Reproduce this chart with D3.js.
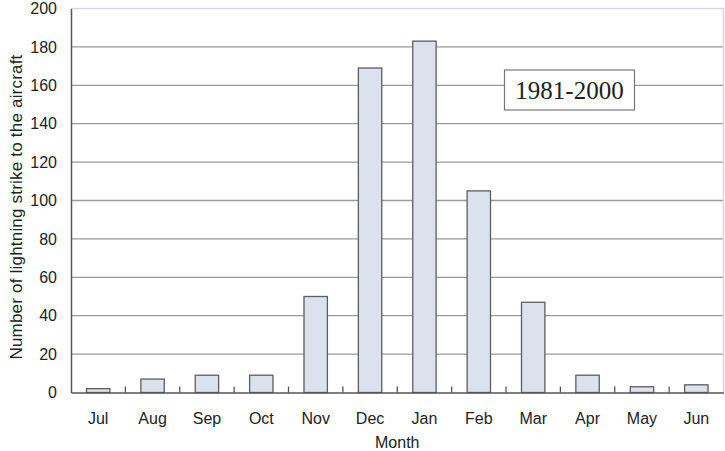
<!DOCTYPE html>
<html>
<head>
<meta charset="utf-8">
<script src="https://cdn.jsdelivr.net/npm/d3@7"></script>
<style>
  body { margin: 0; background: #fff; }
  text { font-family: "Liberation Sans", Arial, sans-serif; }
</style>
</head>
<body>
<div id="chart"></div>
<script>
var months = ["Jul", "Aug", "Sep", "Oct", "Nov", "Dec", "Jan", "Feb", "Mar", "Apr", "May", "Jun"];
var strikes = [2, 7, 9, 9, 50, 169, 183, 105, 47, 9, 3, 4];
var yTicks = [0, 20, 40, 60, 80, 100, 120, 140, 160, 180, 200];
var periodLabel = "1981-2000";

var width = 725;
var height = 451;
var margin = {left: 71, top: 8.5, right: 1.5, bottom: 58.5};
var innerW = width - margin.left - margin.right;
var innerH = height - margin.top - margin.bottom;

var svg = d3.select("#chart")
            .append("svg")
            .attr("width", width)
            .attr("height", height);

var g = svg.append("g")
           .attr("transform", "translate(" + margin.left + "," + margin.top + ")");

var x = d3.scaleBand()
          .domain(months)
          .range([0, innerW]);

var y = d3.scaleLinear()
          .domain([0, 200])
          .range([innerH, 0]);

// grid lines
g.selectAll("line.grid")
  .data(yTicks.slice(1, -1))
  .enter()
    .append("line")
    .attr("class", "grid")
    .attr("x1", 0)
    .attr("x2", innerW)
    .attr("y1", function(d) { return y(d); })
    .attr("y2", function(d) { return y(d); })
    .attr("stroke", "#9a9a9a")
    .attr("stroke-width", 1.3);

// light frame top / right
g.append("path")
  .attr("d", "M0," + y(200) + "H" + innerW + "V" + y(0))
  .attr("fill", "none")
  .attr("stroke", "#d6d6e4")
  .attr("stroke-width", 1.5);

// bars
var barW = x.bandwidth() * 0.43;
g.selectAll("rect.bar")
  .data(strikes)
  .enter()
    .append("rect")
    .attr("class", "bar")
    .attr("x", function(d, i) { return x(months[i]) + (x.bandwidth() - barW) / 2; })
    .attr("y", function(d) { return y(d); })
    .attr("width", barW)
    .attr("height", function(d) { return y(0) - y(d); })
    .attr("fill", "#dbe2ee")
    .attr("stroke", "#5e5e5e")
    .attr("stroke-width", 1.3);

// y axis
var yAxis = d3.axisLeft(y)
              .tickValues(yTicks)
              .tickSize(0)
              .tickPadding(14);

var yg = g.append("g").call(yAxis);
yg.select(".domain").attr("stroke", "#555").attr("stroke-width", 1.5);
yg.selectAll("text")
  .attr("font-size", "16px")
  .attr("fill", "#222");

// x axis
var xAxis = d3.axisBottom(x)
              .tickSize(0)
              .tickPadding(20);

var xg = g.append("g")
          .attr("transform", "translate(0," + innerH + ")")
          .call(xAxis);
xg.select(".domain").attr("stroke", "#555").attr("stroke-width", 1.5);
xg.selectAll("text")
  .attr("font-size", "16px")
  .attr("fill", "#222");

// inner tick marks between categories
g.selectAll("line.sep")
  .data(months.slice(1))
  .enter()
    .append("line")
    .attr("class", "sep")
    .attr("x1", function(d) { return x(d); })
    .attr("x2", function(d) { return x(d); })
    .attr("y1", innerH)
    .attr("y2", innerH - 6)
    .attr("stroke", "#555")
    .attr("stroke-width", 1.3);

// axis titles
svg.append("text")
   .attr("x", margin.left + innerW / 2)
   .attr("y", 448)
   .attr("text-anchor", "middle")
   .attr("font-size", "16px")
   .attr("fill", "#222")
   .text("Month");

svg.append("text")
   .attr("transform", "translate(22," + 207 + ") rotate(-90)")
   .attr("text-anchor", "middle")
   .attr("font-size", "17px")
   .attr("letter-spacing", "0.2px")
   .attr("fill", "#222")
   .text("Number of lightning strike to the aircraft");

// period label box
var box = svg.append("g").attr("transform", "translate(504.5,70)");
box.append("rect")
   .attr("width", 130)
   .attr("height", 40)
   .attr("fill", "#fff")
   .attr("stroke", "#777")
   .attr("stroke-width", 1.2);
box.append("text")
   .attr("x", 65)
   .attr("y", 29)
   .attr("text-anchor", "middle")
   .attr("font-size", "25px")
   .style("font-family", "'Liberation Serif', 'Times New Roman', serif")
   .attr("fill", "#222")
   .text(periodLabel);
</script>
</body>
</html>
